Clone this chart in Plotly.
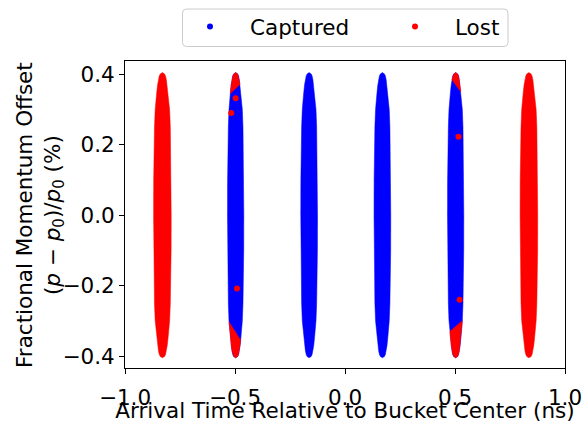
import numpy as np
import plotly.graph_objects as go

# ---- data ----
column_centers = [-0.830, -0.497, -0.163, 0.170, 0.503, 0.836]
column_status = ["Lost", "Captured", "Captured", "Captured", "Captured", "Lost"]
column_halfwidth = [0.040, 0.037, 0.038, 0.038, 0.037, 0.040]

# half-width profile of each bunch (|dp/p| level vs fraction of max half-width)
profile_y = [0.0, 0.10, 0.20, 0.25, 0.30, 0.347, 0.37, 0.385, 0.395, 0.401, 0.405]
profile_frac = [1.0, 0.99, 0.94, 0.90, 0.82, 0.65, 0.55, 0.45, 0.36, 0.25, 0.0]

# lost particles at the tips of the two edge-captured bunches
cap_column = [1, 4]
cap_top_left = [0.345, 0.385]
cap_top_right = [0.372, 0.350]
cap_bot_left = [-0.303, -0.330]
cap_bot_right = [-0.355, -0.300]

# isolated lost particles
lost_x = [-0.497, -0.517, -0.491, 0.516, 0.521]
lost_y = [0.332, 0.290, -0.208, 0.223, -0.240]

x_ticks = [-1.0, -0.5, 0.0, 0.5, 1.0]
x_ticktext = ["\u22121.0", "\u22120.5", "0.0", "0.5", "1.0"]
y_ticks = [-0.4, -0.2, 0.0, 0.2, 0.4]
y_ticktext = ["\u22120.4", "\u22120.2", "0.0", "0.2", "0.4"]

BLUE = "#0000ff"
RED = "#ff0000"
FONT = "DejaVu Sans"
FS = 21.5


def halfwidth(yv, hw):
    return hw * np.interp(abs(yv), profile_y, profile_frac)


def all_levels():
    return sorted(set([-v for v in profile_y] + profile_y))


def column_outline(xc, hw):
    ys = all_levels()
    right_x = [xc + halfwidth(v, hw) for v in ys]
    left_x = [xc - halfwidth(v, hw) for v in ys[::-1]]
    return right_x + left_x + [right_x[0]], ys + ys[::-1] + [ys[0]]


def cap_outline(xc, hw, yl, yr, top=True):
    ys = all_levels()
    if top:
        r = [yr] + [v for v in ys if v > yr]
        l = [v for v in ys if v > yl][::-1] + [yl]
    else:
        r = ([v for v in ys if v < yr] + [yr])[::-1]
        l = [v for v in ys if v < yl] + [yl]
    rx = [xc + halfwidth(v, hw) for v in r]
    lx = [xc - halfwidth(v, hw) for v in l]
    return rx + lx + [rx[0]], r + l + [r[0]]


fig = go.Figure()

for xc, st, hw in zip(column_centers, column_status, column_halfwidth):
    px, py = column_outline(xc, hw)
    col = BLUE if st == "Captured" else RED
    fig.add_trace(go.Scatter(x=px, y=py, mode="lines", fill="toself",
                             fillcolor=col, line=dict(color=col, width=0.5),
                             showlegend=False, hoverinfo="skip"))

for ci, tl, tr, bl, br in zip(cap_column, cap_top_left, cap_top_right, cap_bot_left, cap_bot_right):
    xc, hw = column_centers[ci], column_halfwidth[ci]
    for (a, b, top) in [(tl, tr, True), (bl, br, False)]:
        px, py = cap_outline(xc, hw, a, b, top)
        fig.add_trace(go.Scatter(x=px, y=py, mode="lines", fill="toself",
                                 fillcolor=RED, line=dict(color=RED, width=0.5),
                                 showlegend=False, hoverinfo="skip"))

fig.add_trace(go.Scatter(x=[None], y=[None], mode="markers", name="Captured",
                         marker=dict(color=BLUE, size=6)))
fig.add_trace(go.Scatter(x=lost_x, y=lost_y, mode="markers", name="Lost",
                         marker=dict(color=RED, size=6)))

# pixel -> paper coordinate helpers (plot area in pixels)
L, R, T, B = 125, 565, 61, 368
def px2x(p):
    return (p - L) / (R - L)
def px2y(p):
    return (B - p) / (B - T)

# legend frame with rounded corners
x0, x1, y0, y1 = px2x(182.5), px2x(508), px2y(46.5), px2y(9)
rx, ry = 4 / (R - L), 4 / (B - T)
frame_path = (f"M {x0 + rx},{y1} L {x1 - rx},{y1} Q {x1},{y1} {x1},{y1 - ry} "
              f"L {x1},{y0 + ry} Q {x1},{y0} {x1 - rx},{y0} "
              f"L {x0 + rx},{y0} Q {x0},{y0} {x0},{y0 + ry} "
              f"L {x0},{y1 - ry} Q {x0},{y1} {x0 + rx},{y1} Z")
fig.add_shape(type="path", xref="paper", yref="paper", path=frame_path,
              line=dict(color="#cccccc", width=1), fillcolor="rgba(255,255,255,0.8)",
              layer="above")

# y-axis title (two lines), placed like the reference
fig.add_annotation(
    text="Fractional Momentum Offset<br>(<i>p</i> \u2212 <i>p</i><sub>0</sub>)/<i>p</i><sub>0</sub> (%)",
    xref="paper", yref="paper", x=px2x(40), y=px2y(215),
    xanchor="center", yanchor="middle", textangle=-90, showarrow=False,
    font=dict(family=FONT, size=FS, color="black"))

fig.update_layout(
    width=583, height=423,
    margin=dict(l=125, r=18, t=61, b=55, autoexpand=False),
    paper_bgcolor="white", plot_bgcolor="white",
    font=dict(family=FONT, size=FS, color="black"),
    # main x axis: labels (with an invisible longer tick to push labels down)
    xaxis=dict(range=[-1.0, 1.0], tickvals=x_ticks, ticktext=x_ticktext,
               showline=True, linecolor="black", linewidth=1, mirror=True,
               ticks="outside", ticklen=10, tickwidth=1, tickcolor="rgba(0,0,0,0)",
               showgrid=False, zeroline=False, automargin=False,
               tickfont=dict(family=FONT, size=FS, color="black"),
               title=dict(text="Arrival Time Relative to Bucket Center (ns)",
                          font=dict(family=FONT, size=FS), standoff=1)),
    # overlay x axis: the visible short tick marks
    xaxis2=dict(range=[-1.0, 1.0], tickvals=x_ticks, overlaying="x", anchor="y",
                side="bottom", showticklabels=False, showline=False,
                ticks="outside", ticklen=5, tickwidth=1, tickcolor="black",
                showgrid=False, zeroline=False, automargin=False),
    yaxis=dict(range=[-0.434, 0.438], tickvals=y_ticks, ticktext=y_ticktext,
               showline=True, linecolor="black", linewidth=1, mirror=True,
               ticks="outside", ticklen=5, tickwidth=1, tickcolor="black",
               showgrid=False, zeroline=False, automargin=False,
               tickfont=dict(family=FONT, size=FS, color="black")),
    legend=dict(orientation="h", xref="container", yref="container",
                x=170 / 583, xanchor="left", y=1 - 6 / 423, yanchor="top",
                borderwidth=0, bgcolor="rgba(0,0,0,0)",
                font=dict(family=FONT, size=FS), itemwidth=70,
                entrywidth=120),
    showlegend=True,
)

# an invisible trace so the overlay axis is drawn
fig.add_trace(go.Scatter(x=[None], y=[None], xaxis="x2", yaxis="y",
                         showlegend=False, hoverinfo="skip"))

fig.write_html("out.html", config={"displayModeBar": False},
               post_script="document.body.style.margin='0px';")
